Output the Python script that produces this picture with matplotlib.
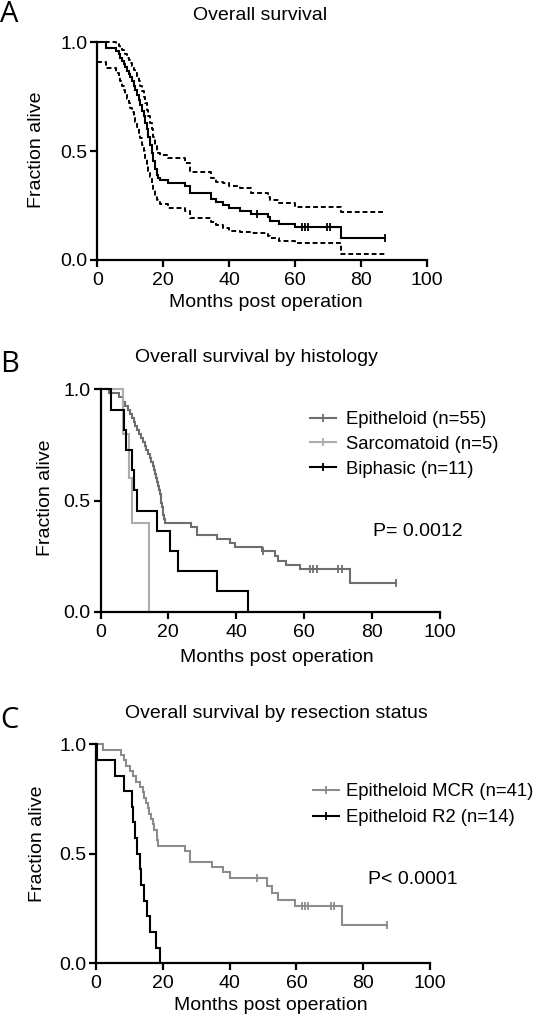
import numpy as np
import matplotlib.pyplot as plt
from matplotlib.lines import Line2D

plt.rcParams['font.family'] = ['Liberation Sans', 'DejaVu Sans']

# ---- values ----
# A: overall survival, Kaplan-Meier estimate with 95% CI (step values)
a_time = [0, 2.7, 5.5, 6.5, 7.0, 7.5, 8.0, 8.5, 9.0, 9.5, 10.0, 10.5, 11.0, 11.5, 12.0,
          12.5, 13.0, 13.5, 14.0, 14.5, 15.0, 15.5, 16.0, 16.5, 17.0, 17.5, 18.0, 18.5,
          19.0, 21.5, 26.5, 28.1, 34.4, 36.0, 38.1, 40.0, 43.4, 46.6, 51.9, 52.5, 55.0,
          59.8, 74.0]
a_surv = [1.0, .972, .958, .944, .93, .915, .90, .885, .87, .855, .84, .82, .80, .78, .76,
          .735, .71, .685, .66, .63, .60, .565, .53, .49, .455, .42, .39, .375,
          .366, .352, .338, .31, .282, .268, .254, .24, .226, .212, .196, .18, .165,
          .15, .10]
a_upper = [1.0, 1.0, .99, .985, .975, .965, .955, .945, .93, .92, .905, .89, .875, .86, .84,
           .82, .80, .775, .75, .72, .69, .66, .63, .60, .565, .53, .50, .49,
           .482, .467, .444, .406, .375, .36, .352, .34, .33, .309, .29, .276, .26,
           .245, .222]
a_lower = [.91, .88, .86, .84, .82, .80, .78, .76, .74, .72, .70, .68, .66, .635, .61,
           .585, .56, .53, .50, .47, .44, .41, .38, .35, .32, .295, .275, .265,
           .255, .237, .225, .191, .176, .16, .145, .135, .13, .122, .11, .10, .088,
           .08, .028]
a_end = 87.3
a_censor = [48.3, 62.0, 63.0, 64.0, 69.6, 70.6, 87.3]

# B: by histology
epi_time = [0, 2.5, 5.5, 6.5, 7.3, 8.0, 8.6, 9.2, 9.8, 10.3, 10.9, 11.5, 12.0, 12.5, 13.0,
            13.5, 14.0, 14.5, 15.0, 15.4, 15.8, 16.1, 16.4, 16.7, 16.9, 17.2, 17.5, 17.7,
            17.9, 18.1, 18.3, 18.5, 18.8, 19.1, 26.7, 28.4, 34.3, 38.2, 39.7, 47.5, 51.5,
            52.5, 54.7, 58.8, 73.6]
epi_surv = [1.0, .982, .964, .945, .927, .909, .891, .873, .855, .836, .818, .80, .782, .764,
            .745, .727, .709, .691, .673, .655, .636, .618, .60, .582, .564, .545, .527,
            .509, .491, .473, .455, .436, .418, .40, .382, .345, .327, .309, .291, .273,
            .25, .229, .21, .19, .127]
epi_end = 87.2
epi_censor = [48.0, 61.8, 62.8, 63.8, 70.1, 71.3, 87.2]

sar_time = [0, 6.6, 8.4, 9.2, 14.2, 14.4]
sar_surv = [1.0, .8, .6, .4, .2, 0.0]

bip_time = [0, 3.0, 7.0, 7.4, 9.2, 9.9, 10.9, 16.6, 20.5, 23.0, 34.5, 43.4]
bip_surv = [1.0, .909, .818, .727, .636, .545, .455, .364, .273, .182, .091, 0.0]

# C: by resection status (epitheloid only)
mcr_time = [0, 2.1, 7.6, 8.3, 9.0, 10.2, 11.2, 12.0, 13.3, 14.0, 14.5, 15.0, 15.5, 16.0,
            16.4, 17.0, 17.5, 18.2, 18.4, 18.6, 26.6, 28.1, 34.6, 38.1, 40.1, 51.1, 52.6,
            54.6, 59.6, 73.6]
mcr_surv = [1.0, .976, .951, .927, .902, .878, .854, .829, .805, .780, .756, .732, .707,
            .683, .659, .634, .610, .585, .561, .537, .512, .464, .439, .415, .388, .355,
            .322, .29, .26, .173]
mcr_end = 87.0
mcr_censor = [48.1, 61.6, 62.6, 63.4, 70.4, 71.4, 87.0]

r2_time = [0, 0.3, 5.6, 8.4, 10.8, 11.1, 11.6, 12.4, 13.1, 13.6, 14.4, 15.4, 16.1, 18.1, 19.1]
r2_surv = [1.0, .929, .857, .786, .714, .643, .571, .5, .429, .357, .286, .214, .143, .071, 0.0]

xticks = [0, 20, 40, 60, 80, 100]
yticks = [0.0, 0.5, 1.0]
ytick_labels = ['0.0', '0.5', '1.0']

FS = 14
LEG_FS = 13.3
W, H = 544, 1019


def km(ax, t, s, end=None, censor=None, color='black', lw=1.5, ls='-'):
    tt = list(t) + ([end] if end is not None else [])
    ss = list(s) + ([s[-1]] if end is not None else [])
    ax.step(tt, ss, where='post', color=color, lw=lw, ls=ls, clip_on=False,
            solid_joinstyle='miter')
    if censor:
        idx = np.searchsorted(t, censor, side='right') - 1
        ax.plot(censor, np.array(s)[idx], ls='none', marker='|', ms=6, mew=1.3,
                color=color, clip_on=False)


def style(ax):
    ax.set_xlim(0, 100)
    ax.set_ylim(0, 1)
    ax.set_xticks(xticks)
    ax.set_yticks(yticks)
    ax.set_yticklabels(ytick_labels)
    for side in ['top', 'right']:
        ax.spines[side].set_visible(False)
    for side in ['left', 'bottom']:
        ax.spines[side].set_linewidth(1.6)
    ax.tick_params(length=5, width=1.6, labelsize=FS)
    ax.tick_params(axis='x', pad=3.5)
    ax.tick_params(axis='y', pad=2)


def px(x, y):
    return x / W, 1 - y / H


fig = plt.figure(figsize=(W / 100, H / 100), dpi=100)

axA = fig.add_axes([97.4 / W, 1 - 260 / H, (427 - 97.4) / W, (260 - 42.3) / H])
axB = fig.add_axes([100.5 / W, 1 - 611.7 / H, (439.5 - 100.5) / W, (611.7 - 389.3) / H])
axC = fig.add_axes([96 / W, 1 - 963.3 / H, (430 - 96) / W, (963.3 - 744.3) / H])

# A
km(axA, a_time, a_upper, a_end, ls=(0, (2.5, 1.5)), lw=1.4)
km(axA, a_time, a_lower, a_end, ls=(0, (2.5, 1.5)), lw=1.4)
km(axA, a_time, a_surv, a_end, a_censor)
style(axA)

# B
epi_c, sar_c, bip_c = '#6e6e6e', '#acacac', 'black'
km(axB, epi_time, epi_surv, epi_end, epi_censor, color=epi_c)
km(axB, sar_time, sar_surv, color=sar_c)
km(axB, bip_time, bip_surv, color=bip_c)
style(axB)
hB = [Line2D([], [], color=c, lw=1.5, marker='|', ms=6, mew=1.3)
      for c in (epi_c, sar_c, bip_c)]
axB.legend(hB, ['Epitheloid (n=55)', 'Sarcomatoid (n=5)', 'Biphasic (n=11)'],
           loc='upper left', bbox_to_anchor=px(310, 411), bbox_transform=fig.transFigure,
           frameon=False, fontsize=LEG_FS, borderpad=0, borderaxespad=0,
           handlelength=1.4, handletextpad=0.55, labelspacing=0.42)

# C
mcr_c, r2_c = '#8c8c8c', 'black'
km(axC, mcr_time, mcr_surv, mcr_end, mcr_censor, color=mcr_c)
km(axC, r2_time, r2_surv, color=r2_c)
style(axC)
hC = [Line2D([], [], color=c, lw=1.5, marker='|', ms=6, mew=1.3) for c in (mcr_c, r2_c)]
axC.legend(hC, ['Epitheloid MCR (n=41)', 'Epitheloid R2 (n=14)'],
           loc='upper left', bbox_to_anchor=px(313, 783), bbox_transform=fig.transFigure,
           frameon=False, fontsize=LEG_FS, borderpad=0, borderaxespad=0,
           handlelength=1.4, handletextpad=0.4, labelspacing=0.5)

# titles, axis labels, panel letters
for (tx, ty, title), (lx, ly, letter) in zip(
        [(259.6, 20, 'Overall survival'),
         (256.6, 362, 'Overall survival by histology'),
         (276, 718, 'Overall survival by resection status')],
        [(0, 22, 'A'), (0, 372, 'B'), (0, 728, 'C')]):
    fig.text(*px(tx, ty), title, ha='center', va='baseline', fontsize=FS)
    fig.text(*px(lx, ly), letter, ha='left', va='baseline', fontsize=21,
             family=['Open Sans', 'DejaVu Sans'])

for x, y in [(36.6, 150), (46, 498), (37.5, 844)]:
    fig.text(*px(x, y), 'Fraction alive', rotation=90, ha='center', va='center', fontsize=FS)
for x, y in [(265.7, 307), (277, 662), (271, 1010)]:
    fig.text(*px(x, y), 'Months post operation', ha='center', va='baseline', fontsize=FS)

fig.text(*px(372.8, 531.7), 'P= 0.0012', ha='left', va='center', fontsize=FS)
fig.text(*px(367.6, 879.3), 'P< 0.0001', ha='left', va='center', fontsize=FS)

fig.savefig('out.png', dpi=100)
